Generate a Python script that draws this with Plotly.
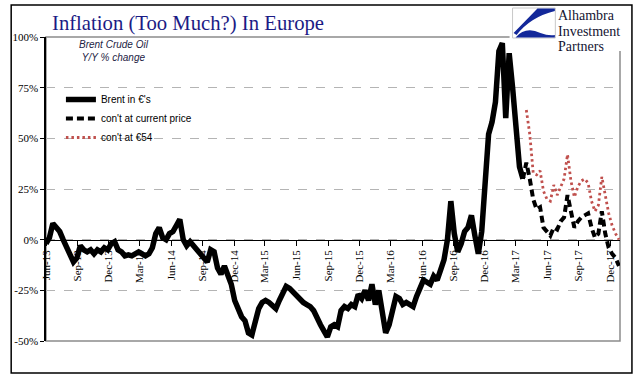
import pandas as pd
import plotly.graph_objects as go

# ---------------- data (10-day steps from 2013-06-01) ----------------
start_date = "2013-06-01"
n_points = 168
dates = pd.date_range(start_date, periods=n_points, freq="10D")

brent_eur = [
    -2, 1, 8, 6, 4, 0, -4, -8, -11, -9,
    -3, -5, -6, -5, -7, -5, -6, -4, -5, -2,
    -1, -5, -6, -8, -7.5, -8, -7, -6, -7, -8,
    -7, -4, 3, 6, 1, 0, 3, 4, 7, 10,
    0, -3, -1, -3, -6, -7, -9, -11, -5, -6,
    -14, -17, -13, -17, -22, -30, -34, -38, -40, -46,
    -47, -39, -34, -31, -30, -31, -33, -34, -30, -27,
    -23, -24, -26, -28, -29, -31, -32, -33, -35, -39,
    -42, -45, -48, -43, -42, -43, -35, -33, -34, -32,
    -33, -27, -29, -25, -30, -22, -32, -25, -38, -46,
    -42, -35, -28, -29, -32, -31, -32, -33, -28, -23,
    -20, -21, -22, -18, -20, -15, -10, 0, 19, 3,
    -6, -2, 4, 6, 12, 2, -7, 4, 30, 52,
    58, 68, 93, 97, 60, 92, 75, 57, 36, 30,
]
cont_current_start = 139
cont_current = [
    30, 38, 30, 20, 15, 16, 6, 4, 2, 6,
    5, 9, 11, 22, 14, 6, 9, 11, 12, 13,
    6, 1, 3, 14, 3, -4, -7, -9, -13,
]
cont_54_start = 140
cont_54 = [
    64, 52, 33, 32, 34, 24, 20, 19, 27, 22,
    26, 30, 42, 29, 21, 26, 29, 30, 28, 19,
    14, 17, 31, 21, 13, 7, 3, 0,
]
series_names = ["Brent in €'s", "con't at current price", "con't at €54"]
title_text = "Inflation (Too Much?) In Europe"
note_lines = ["Brent Crude Oil", "Y/Y % change"]
logo_lines = ["Alhambra", "Investment", "Partners"]
y_ticks = [-50, -25, 0, 25, 50, 75, 100]
y_tick_labels = [f"{v}%" for v in y_ticks]

# ---------------- layout helpers (pixel -> paper) ----------------
W, H = 641, 381
L, R, T, B = 43, 620, 37, 341


def px(x):
    return (x - L) / (R - L)


def py(y):
    return (B - y) / (B - T)


SERIF = "Liberation Serif, Times New Roman, serif"
SANS = "Liberation Sans, Arial, sans-serif"

fig = go.Figure()
fig.add_trace(go.Scatter(
    x=dates[:len(brent_eur)], y=brent_eur, mode="lines", name=series_names[0],
    line=dict(color="black", width=5.5),
))
fig.add_trace(go.Scatter(
    x=dates[cont_current_start:cont_current_start + len(cont_current)], y=cont_current,
    mode="lines", name=series_names[1],
    line=dict(color="black", width=4, dash="7px,4px"),
))
fig.add_trace(go.Scatter(
    x=dates[cont_54_start:cont_54_start + len(cont_54)], y=cont_54,
    mode="lines", name=series_names[2],
    line=dict(color="#c0504d", width=2.8, dash="2.5px,3px"),
))

shapes = [
    dict(type="rect", xref="paper", yref="paper", x0=0, x1=1, y0=0, y1=1,
         line=dict(color="#8c8c8c", width=1.5), layer="below"),
    dict(type="rect", xref="paper", yref="paper", x0=px(8), x1=px(632), y0=py(373), y1=py(5),
         line=dict(color="black", width=1.5), layer="above"),
    dict(type="rect", xref="paper", yref="paper", x0=px(509), x1=px(630), y0=py(51), y1=py(6),
         line=dict(width=0), fillcolor="white", layer="above"),
    dict(type="rect", xref="paper", yref="paper", x0=px(512), x1=px(555), y0=py(38), y1=py(8),
         line=dict(color="#c8c8c8", width=1), fillcolor="white", layer="above"),
]


def path(points_cmds):
    out = []
    for cmd, pts in points_cmds:
        coords = " ".join(f"{px(x):.4f},{py(y):.4f}" for x, y in pts)
        out.append(f"{cmd} {coords}")
    return " ".join(out) + " Z"


shapes.append(dict(type="path", xref="paper", yref="paper", layer="above",
                   path=path([("M", [(537, 8.5)]), ("L", [(554.5, 8.5)]), ("L", [(554.5, 11)]),
                              ("Q", [(530, 17), (516, 35)]), ("L", [(513, 33)])]),
                   fillcolor="#13289a", line=dict(width=0)))
shapes.append(dict(type="path", xref="paper", yref="paper", layer="above",
                   path=path([("M", [(515, 37.5)]), ("Q", [(525, 26), (540, 33)]),
                              ("Q", [(548, 36), (554.5, 35)]), ("L", [(554.5, 37.5)])]),
                   fillcolor="#13289a", line=dict(width=0)))

annotations = [
    dict(text=title_text, xref="paper", yref="paper", x=px(186), y=py(24),
         xanchor="center", yanchor="middle", showarrow=False,
         font=dict(family=SERIF, size=20.7, color="#1b1b85")),
    dict(text="<i>" + "<br>".join(note_lines) + "</i>", xref="paper", yref="paper",
         x=px(111), y=py(51), xanchor="center", yanchor="middle", showarrow=False,
         font=dict(family=SANS, size=10, color="#222244")),
]
for i, t in enumerate(logo_lines):
    annotations.append(dict(text=t, xref="paper", yref="paper", x=px(557), y=py(15.5 + 15.5 * i),
                            xanchor="left", yanchor="middle", showarrow=False, borderpad=0,
                            font=dict(family=SERIF, size=14, color="#141432")))

fig.update_layout(
    width=W, height=H,
    margin=dict(l=L, r=W - R, t=T, b=H - B),
    paper_bgcolor="white", plot_bgcolor="white",
    showlegend=True,
    legend=dict(x=px(58), y=py(85), xanchor="left", yanchor="top",
                bgcolor="rgba(0,0,0,0)", font=dict(family=SANS, size=10, color="black"),
                tracegroupgap=0),
    shapes=shapes, annotations=annotations,
    xaxis=dict(
        type="date", range=["2013-06-01", "2017-12-30"],
        anchor="free", position=py(239.7),
        tick0="2013-06-01", dtick="M3", tickformat="%b-%y", tickangle=-90,
        ticks="outside", ticklen=5, tickcolor="black",
        showline=True, linecolor="black", linewidth=1.3,
        showgrid=False, zeroline=False, layer="below traces",
        tickfont=dict(family=SERIF, size=11, color="black"),
    ),
    yaxis=dict(
        range=[-50, 100], tickmode="array", tickvals=y_ticks, ticktext=y_tick_labels,
        ticks="outside", ticklen=4, tickcolor="black",
        showline=True, linecolor="black", linewidth=1.5,
        showgrid=True, gridcolor="#b4b4b4", griddash="dash", gridwidth=1,
        zeroline=False,
        tickfont=dict(family=SERIF, size=11, color="black"),
    ),
)

fig.write_html("out.html", config={"displayModeBar": False},
               post_script="document.body.style.margin='0';")
